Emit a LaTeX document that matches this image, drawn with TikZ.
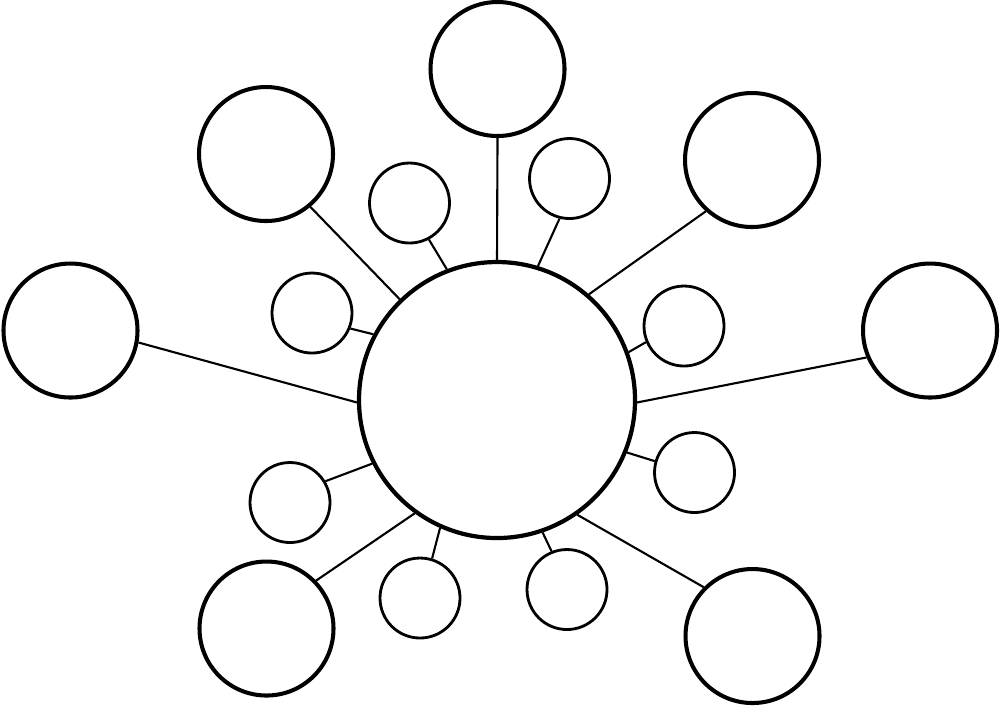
\documentclass[tikz,border=0pt]{standalone}
\usepackage{tikz}
\usetikzlibrary{positioning}

\begin{document}
\begin{tikzpicture}[
      hub/.style={circle, draw, line width=1.2pt, minimum size=2.76cm, inner sep=0pt},
      big/.style={circle, draw, line width=1.15pt, minimum size=1.34cm, inner sep=0pt},
      small/.style={circle, draw, line width=0.8pt, minimum size=0.8cm, inner sep=0pt},
      link/.style={line width=0.6pt}
    ]
    \useasboundingbox (0, 0) rectangle (10, -7.06);

    % Nodes
    \node[hub] (hub) at (4.97, -4.00) {};
    \node[big] (bigtop) at (4.975, -0.69) {};
    \node[big] (bigul) at (2.66, -1.54) {};
    \node[big] (bigur) at (7.52, -1.60) {};
    \node[big] (bigleft) at (0.705, -3.305) {};
    \node[big] (bigright) at (9.30, -3.305) {};
    \node[big] (bigll) at (2.665, -6.285) {};
    \node[big] (biglr) at (7.525, -6.36) {};

    % small circles
    \node[small] (smallul) at (4.095, -2.03) {};
    \node[small] (smallur) at (5.695, -1.785) {};
    \node[small] (smallleft) at (3.12, -3.13) {};
    \node[small] (smallright) at (6.84, -3.26) {};
    \node[small] (smalllr) at (6.945, -4.725) {};
    \node[small] (smallll) at (2.90, -5.025) {};
    \node[small] (smallbl) at (4.20, -5.98) {};
    \node[small] (smallbr) at (5.67, -5.895) {};

    % Lines
    \draw[link] (hub.90) -- (bigtop.-90);
    \draw[link] (hub.134) -- (bigul.-50);
    \draw[link] (hub.49) -- (bigur.228);
    \draw[link] (hub.181) -- (bigleft.-10);
    \draw[link] (hub.-1.6) -- (bigright.203);
    \draw[link] (hub.234.5) -- (bigll.44);
    \draw[link] (hub.-55) -- (biglr.135);
    \draw[link] (hub.111.5) -- (smallul.-62);
    \draw[link] (hub.73) -- (smallur.256);
    \draw[link] (hub.152.7) -- (smallleft.-22);
    \draw[link] (hub.20.5) -- (smallright.203.5);
    \draw[link] (hub.-22.6) -- (smalllr.164);
    \draw[link] (hub.207.5) -- (smallll.31);
    \draw[link] (hub.246.5) -- (smallbl.73);
    \draw[link] (hub.-71.3) -- (smallbr.112.6);
  \end{tikzpicture}
\end{document}
